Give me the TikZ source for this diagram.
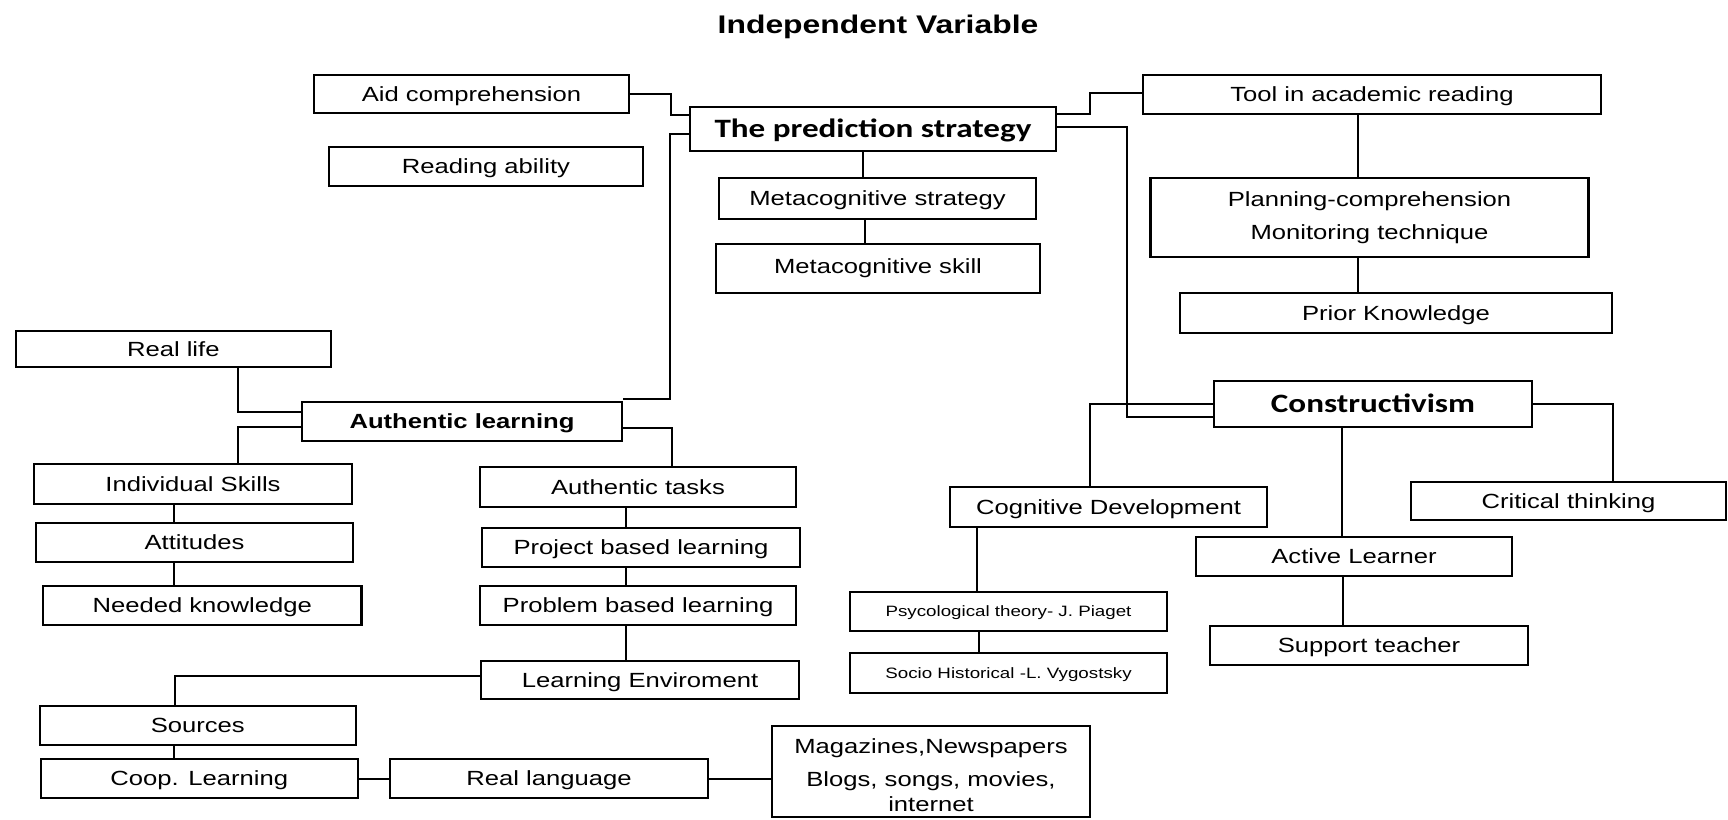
\documentclass[tikz,border=0pt]{standalone}
\usepackage{fontspec}
\setmainfont{Liberation Sans}[FakeStretch=1.25]
\newfontfamily\calfont{Carlito}[FakeStretch=1.25]
\begin{document}
\begin{tikzpicture}[x=1pt,y=-1pt,
  box/.style={draw, line width=2.2pt, inner sep=0pt, align=center,
    text height=16pt, text depth=1.3pt,
    font=\fontsize{20.5}{24}\selectfont},
  multibox/.style={box, text height=, text depth=},
  smallbox/.style={box, text height=12pt, text depth=1.3pt,
    font=\fontsize{15}{18}\selectfont},
  keybox/.style={box, text height=18.5pt, text depth=1.5pt,
    font=\calfont\bfseries\fontsize{26.5}{30}\selectfont},
  conn/.style={line width=2pt}]
\useasboundingbox (0,0) rectangle (1728,819);

% title
\node[font=\bfseries\fontsize{25.5}{30}\selectfont] (title) at (878,27) {Independent Variable};

% central strategy and its branches
\node[keybox, minimum width=366, minimum height=44] (pred) at (873,129) {The prediction strategy};
\node[box, minimum width=315, minimum height=38] (aid) at (471.5,94) {Aid comprehension};
\node[box, minimum width=313.5, minimum height=39] (read) at (486,166.5) {Reading ability};
\node[box, minimum width=458, minimum height=39] (tool) at (1372,94.5) {Tool in academic reading};
\node[box, minimum width=317, minimum height=41] (ms) at (877.5,198.5) {Metacognitive strategy};
\node[box, minimum width=324.5, minimum height=49, text depth=6pt] (mskill) at (878,268.5) {Metacognitive skill};
\node[multibox, minimum width=438, minimum height=79] (plan) at (1369.5,217.5) {Planning-comprehension\\[9pt]Monitoring technique};
\node[box, minimum width=432, minimum height=40] (prior) at (1396,313) {Prior Knowledge};

% authentic learning branch
\node[box, minimum width=315.4, minimum height=36] (rl) at (173.3,349) {Real life};
\node[box, font=\bfseries\fontsize{20.5}{24}\selectfont, minimum width=320, minimum height=39] (al) at (462,421.5) {Authentic learning};
\node[box, minimum width=318, minimum height=40] (is) at (193,484) {Individual Skills};
\node[box, minimum width=317, minimum height=39] (att) at (194.5,542.5) {Attitudes};
\node[box, minimum width=318.5, minimum height=39] (nk) at (202.25,605.5) {Needed knowledge};
\node[box, minimum width=316, minimum height=40] (at) at (638,487) {Authentic tasks};
\node[box, minimum width=318, minimum height=39] (pj) at (641,547.5) {Project based learning};
\node[box, minimum width=316, minimum height=39] (pb) at (638,605.5) {Problem based learning};
\node[box, minimum width=318, minimum height=38] (le) at (640,680) {Learning Enviroment};
\node[box, minimum width=316.4, minimum height=39] (src) at (197.8,725.5) {Sources};
\node[box, minimum width=317.4, minimum height=39] (coop) at (199.3,778.5) {Coop. Learning};
\node[box, minimum width=318, minimum height=39] (rlang) at (549,778.5) {Real language};
\node[multibox, minimum width=318, minimum height=91] (mag) at (931,771.5) {\rule{0pt}{22pt}Magazines,Newspapers\\[9pt]Blogs, songs, movies,\\[1pt]internet};

% constructivism branch
\node[keybox, minimum width=318, minimum height=46] (cons) at (1373,404) {Constructivism};
\node[box, minimum width=317, minimum height=40] (cd) at (1108.5,507) {Cognitive Development};
\node[box, minimum width=315, minimum height=38] (ct) at (1568.5,501) {Critical thinking};
\node[box, minimum width=316, minimum height=39] (act) at (1354,556.5) {Active Learner};
\node[smallbox, minimum width=317, minimum height=39] (psy) at (1008.5,611.5) {Psycological theory- J. Piaget};
\node[smallbox, minimum width=317, minimum height=40] (soc) at (1008.5,673) {Socio Historical -L. Vygostsky};
\node[box, minimum width=318, minimum height=39] (sup) at (1369,645.5) {Support teacher};

% connectors around the prediction strategy
\draw[conn] (aid.east) -- ++(41,0) |- ([yshift=14pt]pred.west);
\draw[conn] ([yshift=2pt]al.north east) -- ++(47,0) |- ([yshift=-5pt]pred.west);
\draw[conn] ([xshift=-10pt]pred.south) -- ([xshift=-10pt]pred.south |- ms.north);
\draw[conn] ([xshift=-12.5pt]ms.south) -- ([xshift=-12.5pt]ms.south |- mskill.north);
\draw[conn] ([yshift=15pt]pred.east) -- ++(33,0) |- ([yshift=2pt]tool.west);
\draw[conn] ([xshift=-14pt]tool.south) -- ([xshift=-14pt]tool.south |- plan.north);
\draw[conn] ([xshift=-11.5pt]plan.south) -- ([xshift=-11.5pt]plan.south |- prior.north);
\draw[conn] ([yshift=2pt]pred.east) -- ++(70,0) |- ([yshift=-12.5pt]cons.west);

% connectors of authentic learning
\draw[conn] ([xshift=65pt]rl.south) |- ([yshift=9.5pt]al.west);
\draw[conn] ([yshift=-5.5pt]al.west) -| ([xshift=45pt]is.north);
\draw[conn] ([yshift=-6.5pt]al.east) -| ([xshift=34pt]at.north);
\draw[conn] ([xshift=-19.5pt]is.south) -- ([xshift=-19.5pt]is.south |- att.north);
\draw[conn] ([xshift=-21pt]att.south) -- ([xshift=-21pt]att.south |- nk.north);
\draw[conn] ([xshift=-12pt]at.south) -- ([xshift=-12pt]at.south |- pj.north);
\draw[conn] ([xshift=-15pt]pj.south) -- ([xshift=-15pt]pj.south |- pb.north);
\draw[conn] ([xshift=-12pt]pb.south) -- ([xshift=-12pt]pb.south |- le.north);
\draw[conn] ([yshift=4pt]le.west) -| ([xshift=-23pt]src.north);
\draw[conn] ([xshift=-24pt]src.south) -- ([xshift=-24pt]src.south |- coop.north);
\draw[conn] (coop.east) -- (rlang.west);
\draw[conn] (rlang.east) -- (rlang.east -| mag.west);

% connectors of constructivism
\draw[conn] (cons.west) -| ([xshift=-18.5pt]cd.north);
\draw[conn] ([xshift=-31.5pt]cons.south) -- ([xshift=-31.5pt]cons.south |- act.north);
\draw[conn] (cons.east) -| ([xshift=44.5pt]ct.north);
\draw[conn] ([xshift=-131.5pt]cd.south) -- ([xshift=-131.5pt]cd.south |- psy.north);
\draw[conn] ([xshift=-30pt]psy.south) -- ([xshift=-30pt]psy.south |- soc.north);
\draw[conn] ([xshift=-11.3pt]act.south) -- ([xshift=-11.3pt]act.south |- sup.north);
\end{tikzpicture}
\end{document}
